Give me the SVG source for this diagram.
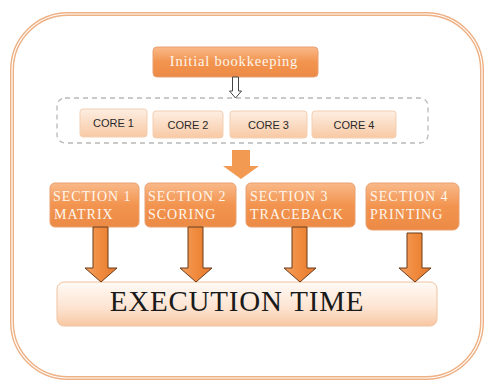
<svg xmlns="http://www.w3.org/2000/svg" width="489" height="381" viewBox="0 0 489 381">
<defs>
<linearGradient id="og" x1="0" y1="0" x2="0" y2="1"><stop offset="0" stop-color="#f9b98a"/><stop offset="0.5" stop-color="#f2944f"/><stop offset="1" stop-color="#ec8a45"/></linearGradient>
<linearGradient id="cg" x1="0" y1="0" x2="0" y2="1"><stop offset="0" stop-color="#fdeee2"/><stop offset="1" stop-color="#f8c9a4"/></linearGradient>
<linearGradient id="eg" x1="0" y1="0" x2="0" y2="1"><stop offset="0" stop-color="#fffaf6"/><stop offset="0.6" stop-color="#fde3d0"/><stop offset="1" stop-color="#f7c7a2"/></linearGradient>
<linearGradient id="ag" x1="0" y1="0" x2="1" y2="0"><stop offset="0" stop-color="#f3a062"/><stop offset="0.5" stop-color="#f08a3c"/><stop offset="1" stop-color="#e47a30"/></linearGradient>
</defs>
<style>
.ob{fill:url(#og);stroke:#e9a070;stroke-width:1}
.core{fill:url(#cg);stroke:#f3cfb2;stroke-width:1}
.wt{font-family:"Liberation Serif",serif;fill:#fff6ec;font-size:14px;letter-spacing:1px}
.ct{font-family:"Liberation Sans",sans-serif;fill:#2a2a2a;font-size:11px;text-anchor:middle}
.arr{fill:url(#ag);stroke:#6b3a18;stroke-width:1}
</style>
<rect width="489" height="381" fill="#ffffff"/>
<g id="frame">
<rect x="12" y="14" width="470" height="364" rx="56" fill="#ffffff" stroke="#efb083" stroke-width="4"/>
<rect x="12" y="14" width="470" height="364" rx="56" fill="none" stroke="#ffffff" stroke-width="1.2"/>
</g>
<g id="init">
<rect x="153" y="47" width="165" height="30" rx="4" class="ob"/>
<text x="234" y="66" class="wt" text-anchor="middle" style="font-size:14.5px;letter-spacing:0.8px">Initial bookkeeping</text>
</g>
<g id="cores">
<rect x="57" y="98" width="371" height="45" rx="8" fill="none" stroke="#b8b8b8" stroke-width="1.3" stroke-dasharray="5 4"/>
</g>
<g id="core1"><rect x="80" y="109" width="67" height="28" rx="3" class="core"/><text x="113.5" y="127" class="ct">CORE 1</text></g>
<g id="core2"><rect x="153" y="111" width="70" height="27" rx="3" class="core"/><text x="188" y="129" class="ct">CORE 2</text></g>
<g id="core3"><rect x="230" y="111" width="77" height="27" rx="3" class="core"/><text x="268.5" y="129" class="ct">CORE 3</text></g>
<g id="core4"><rect x="312" y="111" width="84" height="27" rx="3" class="core"/><text x="354" y="129" class="ct">CORE 4</text></g>
<g id="s1"><rect x="50" y="183" width="89" height="44" rx="5" class="ob"/><text x="53" y="201" class="wt">SECTION 1</text><text x="54" y="219" class="wt">MATRIX</text></g>
<g id="s2"><rect x="145" y="183" width="91" height="44" rx="5" class="ob"/><text x="148" y="201" class="wt">SECTION 2</text><text x="148" y="219" class="wt">SCORING</text></g>
<g id="s3"><rect x="246" y="183" width="109" height="44" rx="5" class="ob"/><text x="250" y="201" class="wt">SECTION 3</text><text x="250" y="219" class="wt">TRACEBACK</text></g>
<g id="s4"><rect x="366" y="183" width="93" height="47" rx="6" class="ob"/><text x="370" y="201" class="wt">SECTION 4</text><text x="370" y="219" class="wt">PRINTING</text></g>
<g id="exec">
<rect x="57" y="282" width="380" height="44" rx="7" fill="url(#eg)" stroke="#f0c3a0" stroke-width="1"/>
<text x="237" y="311" font-family="Liberation Serif,serif" font-size="29" fill="#1a1a1a" text-anchor="middle" letter-spacing="0.8">EXECUTION TIME</text>
</g>
<g id="connectors">
<path d="M232.5 77 V91 H229.5 L235.5 98 L241.5 91 H238.5 V77 Z" fill="#ffffff" stroke="#444" stroke-width="1"/>
<path d="M232 150 H250 V166 H259 L241 179 L223 166 H232 Z" fill="#f39a52" stroke="none"/>
<path d="M93 227 V268 H85 L101 282 L117 268 H108 V227 Z" class="arr"/>
<path d="M188 227 V268 H180 L196 282 L212 268 H203 V227 Z" class="arr"/>
<path d="M292 227 V268 H284 L300 282 L316 268 H307 V227 Z" class="arr"/>
<path d="M407 233 V268 H399 L415 282 L431 268 H422 V233 Z" class="arr"/>
</g>
</svg>
